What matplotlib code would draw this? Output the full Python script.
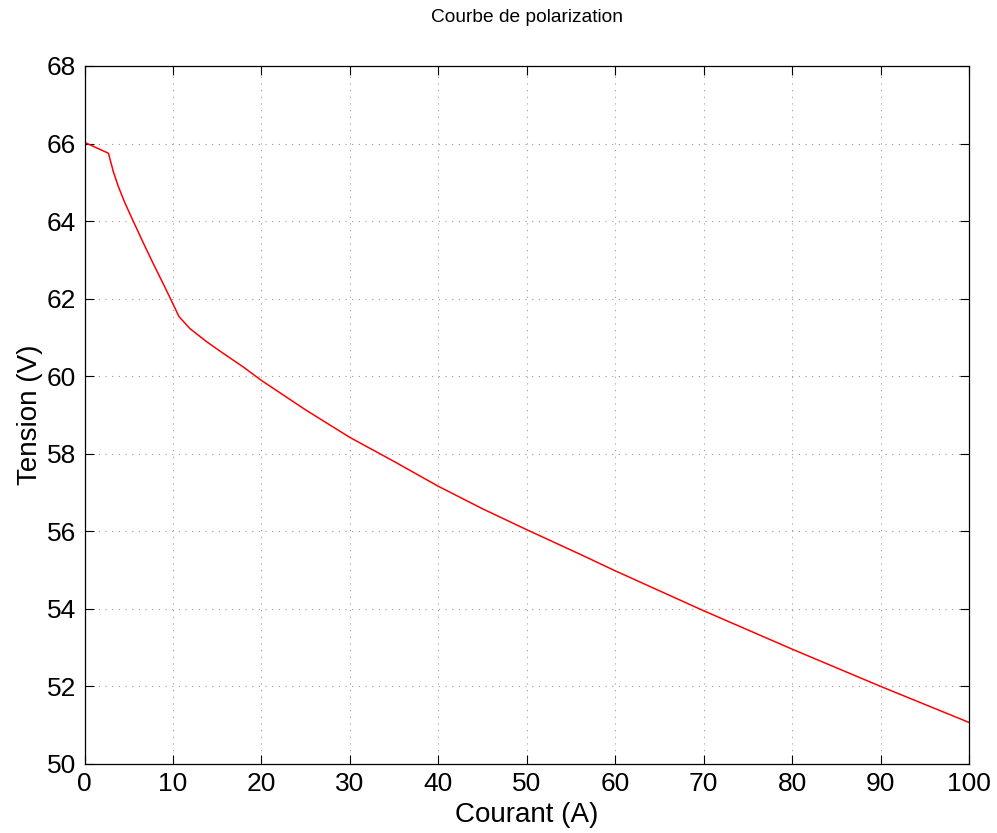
import matplotlib
matplotlib.use("Agg")
import matplotlib.pyplot as plt

courant = [0, 2.7, 3.26, 3.82, 4.58, 5.5, 6.64, 7.77, 8.9, 9.73, 10.67, 11.9, 13.8, 15.67, 17.93, 20, 25, 30, 35, 40, 45, 50, 56, 60, 70, 80, 90, 100]
tension = [66.03, 65.75, 65.27, 64.89, 64.46, 64.0, 63.44, 62.9, 62.38, 61.99, 61.54, 61.23, 60.89, 60.59, 60.24, 59.89, 59.13, 58.42, 57.80, 57.16, 56.58, 56.04, 55.41, 54.98, 53.95, 52.96, 52.0, 51.07]
xticks = list(range(0, 101, 10))
yticks = list(range(50, 69, 2))

plt.rcParams['font.family'] = ['Liberation Sans', 'DejaVu Sans']

fig = plt.figure(figsize=(9.97, 8.33), dpi=100)
ax = fig.add_axes([0.0848, 0.0829, 0.972 - 0.0848, 0.9208 - 0.0829])
ax.plot(courant, tension, color='red', lw=1.1)
ax.set_xlim(0, 100)
ax.set_ylim(50, 68)
ax.set_xticks(xticks)
ax.set_yticks(yticks)
ax.tick_params(direction='in', top=True, right=True, length=6.5, width=0.8, labelsize=19, pad=6)
ax.grid(True, linestyle=(0, (1, 5)), color='#999999', lw=0.8)
for s in ax.spines.values():
    s.set_linewidth(0.9)
ax.set_xlabel('Courant (A)', fontsize=20, va='center')
ax.xaxis.set_label_coords(0.5, -0.0731)
ax.set_ylabel('Tension (V)', fontsize=20, va='center')
ax.yaxis.set_label_coords(-0.0616, 0.5)
fig.text(0.5281, 1 - 18 / 833, 'Courbe de polarization', ha='center', va='center', fontsize=13.8)
fig.savefig('out.png', dpi=100)
